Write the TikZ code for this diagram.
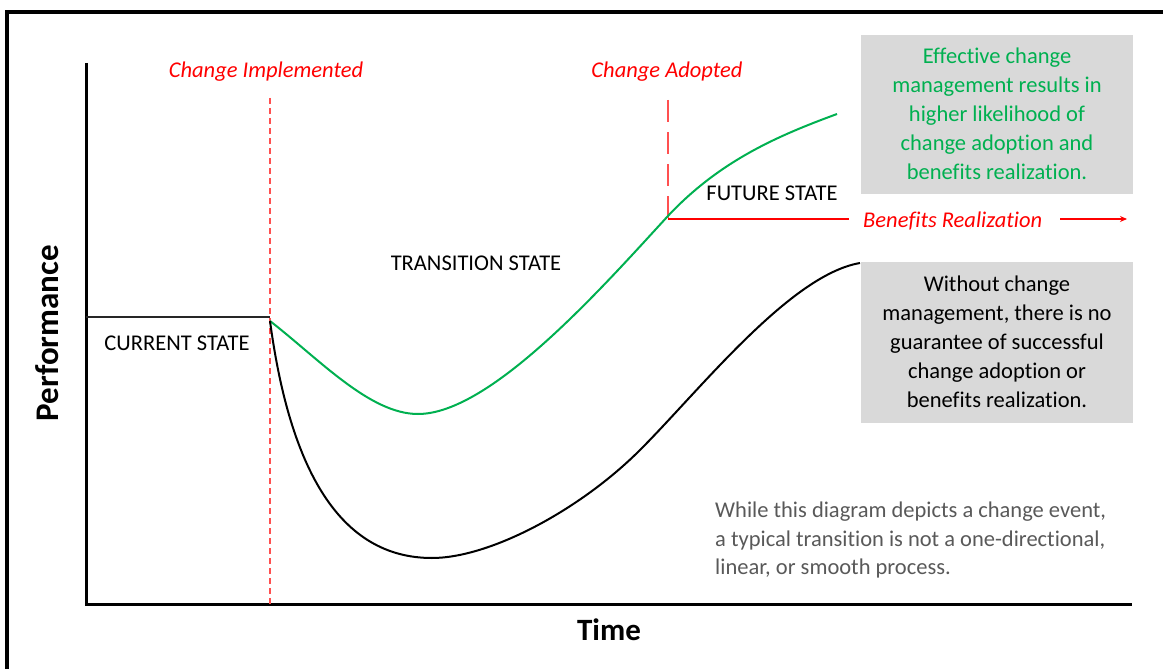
\documentclass[tikz,border=0pt]{standalone}
\usepackage{fontspec}
\setmainfont{Carlito}[Ligatures=NoCommon]
\usetikzlibrary{arrows.meta}
\definecolor{okgreen}{RGB}{0,176,80}
\definecolor{alertred}{RGB}{255,0,0}
\definecolor{dashred}{RGB}{255,80,80}
\definecolor{boxgray}{RGB}{217,217,217}
\definecolor{notegray}{RGB}{89,89,89}
\tikzset{
  body/.style={font=\fontsize{22.5}{28.9}\selectfont, inner sep=0pt},
  phase/.style={body, text=black},
  marker/.style={body, text=alertred, font=\fontsize{22.5}{28.9}\selectfont\itshape},
  callout/.style={fill=boxgray, draw=none},
  axislabel/.style={inner sep=0pt},
}
\begin{document}
\begin{tikzpicture}[x=1pt,y=-1pt]
\useasboundingbox (0,0) rectangle (1163,669);
% outer frame (top and left edges in view)
\draw[line width=3.5pt] (7,680) -- (7,12) -- (1175,12);
% axes
\draw[line width=3pt] (86,63) -- (86,604) -- (1132,604);
\node[axislabel, rotate=90, font=\fontsize{33}{36}\selectfont\bfseries] (perf) at (47,333) {Performance};
\node[axislabel, font=\fontsize{31}{34}\selectfont\bfseries] (time) at (609,630) {Time};
% phase markers
\draw[dashred, line width=1.5pt, dash pattern=on 6pt off 4pt] (270,98) -- (270,604);
\node[marker] (impl) at (266,72) {Change Implemented};
\draw[dashred, line width=1.8pt, dash pattern=on 22pt off 10pt] (668,100) -- (668,219);
\node[marker] (adopt) at (667,72) {Change Adopted};
\draw[alertred, line width=1.5pt] (668,219) -- (849,219);
\node[marker, anchor=west] (benefits) at (863,221) {Benefits Realization};
\coordinate (arrowend) at (1127,219);
\draw[alertred, line width=1.5pt, -{Stealth[length=7pt,width=6pt]}] (1060,219) -- (arrowend);
% current state
\draw[black!85, line width=1.5pt] (86,317) -- (270,317);
\node[phase] (current) at (177,343) {CURRENT STATE};
\node[phase] (transition) at (476,263) {TRANSITION STATE};
\node[phase] (future) at (772,193) {FUTURE STATE};
% performance with change management
\draw[okgreen, line width=2pt]
  (270,321) .. controls (320,360) and (370,414) .. (418,414)
            .. controls (490,414) and (600,290) .. (667,217)
            .. controls (720,160) and (780,135) .. (837,114);
% performance without change management
\draw[black, line width=2pt]
  (270,321) .. controls (290,470) and (340,558) .. (432,558)
            .. controls (490,558) and (580,510) .. (640,450)
            .. controls (700,390) and (790,275) .. (860,263);
% callouts
\fill[callout] (861,35) rectangle (1133,194);
\node[body, text=okgreen, align=center] (good) at (997,114)
  {Effective change\\management results in\\higher likelihood of\\change adoption and\\benefits realization.};
\fill[callout] (861,262) rectangle (1133,423);
\node[body, text=black, align=center] (bad) at (997,342)
  {Without change\\management, there is no\\guarantee of successful\\change adoption or\\benefits realization.};
\node[body, text=notegray, align=left, anchor=west] (note) at (715,540)
  {While this diagram depicts a change event,\\a typical transition is not a one-directional,\\linear, or smooth process.};
\end{tikzpicture}
\end{document}
